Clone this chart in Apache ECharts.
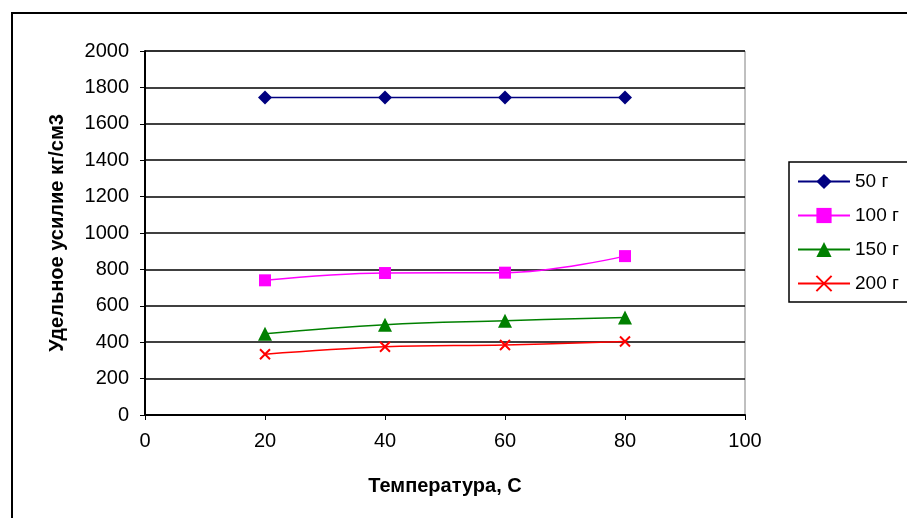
<!DOCTYPE html>
<html>
<head>
<meta charset="utf-8">
<script src="https://cdn.jsdelivr.net/npm/echarts@6/dist/echarts.min.js"></script>
<style>
  html, body { margin: 0; padding: 0; background: #fff; }
  #chart { width: 907px; height: 518px; }
</style>
</head>
<body>
<div id="chart"></div>
<script>
  // температура, C
  const temps = [20, 40, 60, 80];
  // удельное усилие кг/см3 для каждой массы
  const g50 = [1745, 1745, 1745, 1745];
  const g100 = [740, 780, 782, 873];
  const g150 = [446, 496, 518, 536];
  const g200 = [334, 375, 385, 404];
  const names = ['50 г', '100 г', '150 г', '200 г'];

  const pairs = arr => temps.map((t, i) => [t, arr[i]]);
  const crossPath = 'path://M0,0L10,10M10,0L0,10';

  const chart = echarts.init(document.getElementById('chart'));
  const font = 'Liberation Sans, Arial, sans-serif';

  const mk = (name, data, color, symbol, size, extra) => Object.assign({
    name: name,
    type: 'line',
    data: pairs(data),
    smooth: 0.4,
    symbol: symbol,
    symbolSize: size,
    lineStyle: { color: color, width: 1.5 },
    itemStyle: { color: color },
    animation: false
  }, extra || {});

  chart.setOption({
    animation: false,
    textStyle: { fontFamily: font },
    graphic: [{
      type: 'rect',
      shape: { x: 12, y: 13, width: 1000, height: 600 },
      style: { fill: 'none', stroke: '#000', lineWidth: 2 },
      silent: true
    }],
    grid: { left: 145, right: 162, top: 51, bottom: 103, show: true, borderColor: '#808080', borderWidth: 1 },
    legend: {
      orient: 'vertical',
      left: 789, top: 162,
      padding: [10, 40, 9, 8],
      itemGap: 15,
      itemWidth: 52, itemHeight: 19,
      borderColor: '#000', borderWidth: 1.5,
      textStyle: { fontSize: 19, color: '#000', fontFamily: font },
      data: names
    },
    xAxis: {
      type: 'value', min: 0, max: 100, interval: 20,
      name: 'Температура, С', nameLocation: 'middle', nameGap: 61,
      nameTextStyle: { fontSize: 20, fontWeight: 'bold', color: '#000' },
      axisLine: { lineStyle: { color: '#000', width: 2 } },
      axisTick: { inside: false, length: 5, lineStyle: { color: '#000' } },
      axisLabel: { fontSize: 20, color: '#000', margin: 16 },
      splitLine: { show: false }
    },
    yAxis: {
      type: 'value', min: 0, max: 2000, interval: 200,
      name: 'Удельное усилие кг/см3', nameLocation: 'middle', nameGap: 78,
      nameTextStyle: { fontSize: 20, fontWeight: 'bold', color: '#000' },
      axisLine: { show: true, lineStyle: { color: '#000', width: 2 } },
      axisTick: { show: true, length: 5, lineStyle: { color: '#000' } },
      axisLabel: { fontSize: 20, color: '#000', margin: 16, formatter: v => String(v) },
      splitLine: { lineStyle: { color: '#000', width: 1.5 } }
    },
    series: [
      mk(names[0], g50, '#000080', 'diamond', 14),
      mk(names[1], g100, '#ff00ff', 'rect', 12),
      mk(names[2], g150, '#008000', 'triangle', 14),
      mk(names[3], g200, '#ff0000', crossPath, 10, {
        itemStyle: { color: '#ff0000', borderColor: '#ff0000', borderWidth: 2 }
      })
    ]
  });
</script>
</body>
</html>
